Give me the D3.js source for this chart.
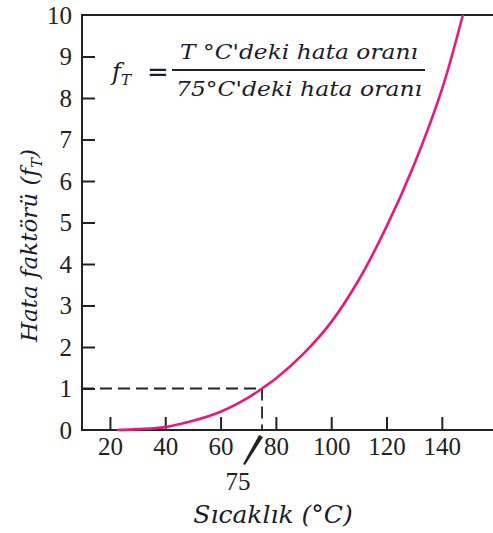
<!DOCTYPE html>
<html>
<head>
<meta charset="utf-8">
<script src="https://cdn.jsdelivr.net/npm/d3@7"></script>
<style>
  body { margin: 0; background: #fff; }
  svg { display: block; }
  .tick text { font-family: "Liberation Serif", serif; font-size: 25px; fill: #222; }
</style>
</head>
<body>
<div id="chart"></div>
<script>
/** Data */
const temps = [22.5, 30, 40, 50, 60, 70, 75, 80, 90, 100, 110, 120, 130, 140, 147.6];
const factors = [0, 0.02, 0.07, 0.22, 0.44, 0.78, 1, 1.24, 1.84, 2.6, 3.62, 4.9, 6.4, 8.2, 10];
const xTicks = [20, 40, 60, 80, 100, 120, 140];
const yTicks = [0, 1, 2, 3, 4, 5, 6, 7, 8, 9, 10];
const refTemp = 75;
const refFactor = 1;

/** Graph configs */
const width = 493;
const height = 533;
const plotLeft = 82, plotRight = 493, plotTop = 15, plotBottom = 430;
const ink = "#1c1c2c";

const svg = d3.select("#chart").append("svg")
  .attr("width", width).attr("height", height);

const x = d3.scaleLinear().domain([9.9, 158.5]).range([plotLeft, plotRight]);
const y = d3.scaleLinear().domain([0, 10]).range([plotBottom, plotTop]);

/** Axes with inward ticks */
const xAxis = svg.append("g")
  .attr("transform", `translate(0,${plotBottom})`)
  .call(d3.axisBottom(x).tickValues(xTicks).tickSize(-13).tickPadding(7));
xAxis.select(".domain").remove();
xAxis.selectAll(".tick line").attr("stroke", "#222").attr("stroke-width", 2);

const yAxis = svg.append("g")
  .attr("transform", `translate(${plotLeft},0)`)
  .call(d3.axisLeft(y).tickValues(yTicks).tickSize(-13).tickPadding(10));
yAxis.select(".domain").remove();
yAxis.selectAll(".tick line").attr("stroke", "#222").attr("stroke-width", 2)
  .filter((d) => d === 10 || d === 0).remove();

/** Frame: left, bottom and top lines */
svg.append("path")
  .attr("d", `M${plotRight},${plotTop}H${plotLeft}V${plotBottom}H${plotRight}`)
  .attr("fill", "none").attr("stroke", "#222").attr("stroke-width", 2);

/** Dashed reference lines at 75 °C */
svg.append("path")
  .attr("d", `M${plotLeft},${y(refFactor)}H${x(refTemp)}V${y(0)}`)
  .attr("fill", "none").attr("stroke", "#222").attr("stroke-width", 1.8)
  .attr("stroke-dasharray", "12,6");

/** Curve */
const line = d3.line()
  .x((d, i) => x(temps[i]))
  .y((d) => y(d))
  .curve(d3.curveCatmullRom);

svg.append("path")
  .datum(factors)
  .attr("d", line)
  .attr("fill", "none")
  .attr("stroke", "#e5197e")
  .attr("stroke-width", 2.6);

/** 75 marker below the axis (tapered pointer) */
const px = x(refTemp);
svg.append("path")
  .attr("d", `M${px - 3},${plotBottom + 5}L${px + 1},${plotBottom + 7}L${px - 17},${plotBottom + 35}L${px - 19},${plotBottom + 34}Z`)
  .attr("fill", "#222");
svg.append("text")
  .attr("x", px - 24).attr("y", plotBottom + 60)
  .attr("text-anchor", "middle")
  .attr("font-family", "Liberation Serif, serif").attr("font-size", 25).attr("fill", "#222")
  .text(refTemp);

/** Axis titles */
svg.append("text")
  .attr("x", 273).attr("y", 523)
  .attr("text-anchor", "middle")
  .attr("font-family", "DejaVu Serif, serif").attr("font-style", "italic")
  .attr("font-size", 25).attr("fill", ink)
  .text("Sıcaklık (°C)");

const yTitle = svg.append("text")
  .attr("transform", `translate(37,${(plotTop + plotBottom) / 2 + 23}) rotate(-90)`)
  .attr("text-anchor", "middle")
  .attr("font-family", "DejaVu Serif, serif").attr("font-style", "italic")
  .attr("font-size", 23).attr("fill", ink);
yTitle.append("tspan").text("Hata faktörü (f");
yTitle.append("tspan").attr("font-size", 15).attr("dy", 5).text("T");
yTitle.append("tspan").attr("dy", -5).text(")");

/** Formula */
const fx = svg.append("text")
  .attr("x", 112).attr("y", 80)
  .attr("font-family", "DejaVu Serif, serif").attr("font-style", "italic")
  .attr("font-size", 24).attr("fill", ink);
fx.append("tspan").text("f");
fx.append("tspan").attr("font-size", 15).attr("dy", 5).text("T");
svg.append("text")
  .attr("x", 147).attr("y", 81)
  .attr("font-family", "DejaVu Sans, sans-serif").attr("font-size", 26).attr("fill", ink)
  .text("=");
svg.append("line")
  .attr("x1", 172).attr("x2", 425).attr("y1", 70).attr("y2", 70)
  .attr("stroke", "#222").attr("stroke-width", 1.8);
svg.append("text")
  .attr("x", 299).attr("y", 59).attr("text-anchor", "middle")
  .attr("font-family", "DejaVu Serif, serif").attr("font-style", "italic")
  .attr("font-size", 21).attr("fill", ink)
  .attr("textLength", 238).attr("lengthAdjust", "spacingAndGlyphs")
  .text("T °C'deki hata oranı");
svg.append("text")
  .attr("x", 299).attr("y", 96).attr("text-anchor", "middle")
  .attr("font-family", "DejaVu Serif, serif").attr("font-style", "italic")
  .attr("font-size", 21).attr("fill", ink)
  .attr("textLength", 246).attr("lengthAdjust", "spacingAndGlyphs")
  .text("75°C'deki hata oranı");
</script>
</body>
</html>
